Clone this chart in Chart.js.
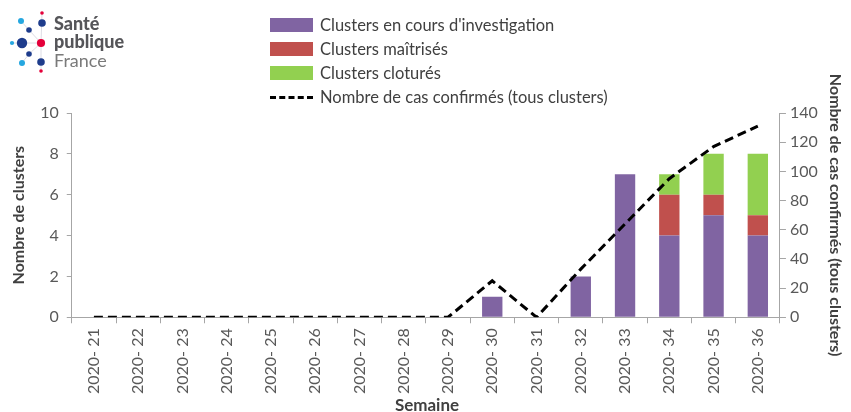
<!DOCTYPE html>
<html><head><meta charset="utf-8">
<script src="https://cdn.jsdelivr.net/npm/chart.js@4"></script>
<style>
html,body{margin:0;padding:0;background:#fff;overflow:hidden;}
#wrap{position:relative;width:851px;height:412px;overflow:hidden;font-family:Lato,"Open Sans",sans-serif;}
#c{position:absolute;left:0;top:0;}
#legend{position:absolute;left:270px;top:13px;font-size:16.5px;color:#404040;}
.li{height:24px;display:flex;align-items:center;}
.sw{width:43px;height:14px;margin-right:7px;}
.dash{width:43px;height:0;border-top:3px dashed #000;margin-right:7px;}
#logo{position:absolute;left:0;top:0;}
.lt{position:absolute;left:54px;font-family:Lato,sans-serif;color:#555559;font-size:18px;line-height:17px;}
#xt{position:absolute;left:377px;width:100px;text-align:center;top:395px;font-size:17px;font-weight:bold;color:#404040;line-height:20px;}
</style></head>
<body><div id="wrap">
<canvas id="c" width="851" height="412"></canvas>
<svg id="logo" width="60" height="80">
<g stroke="#dcdce4" stroke-width="1">
<line x1="41" y1="43" x2="42" y2="13"/><line x1="41" y1="43" x2="41" y2="71"/>
<line x1="41" y1="43" x2="12" y2="43"/><line x1="41" y1="43" x2="29" y2="30"/>
<line x1="41" y1="43" x2="29" y2="54"/><line x1="29" y1="30" x2="21" y2="21"/><line x1="29" y1="54" x2="22" y2="63"/>
</g>
<circle cx="42" cy="13" r="1.8" fill="#e4003a"/>
<circle cx="42" cy="23" r="3.8" fill="#1e3c8c"/>
<circle cx="21" cy="21" r="3" fill="#25a7e0"/>
<circle cx="29" cy="30" r="2.8" fill="#1e3c8c"/>
<circle cx="12" cy="43" r="2.1" fill="#25a7e0"/>
<circle cx="22" cy="43" r="5.2" fill="#1e3c8c"/>
<circle cx="41" cy="43" r="4.1" fill="#e4003a"/>
<circle cx="29" cy="54" r="2.8" fill="#1e3c8c"/>
<circle cx="22" cy="63" r="3" fill="#25a7e0"/>
<circle cx="41" cy="62" r="3.8" fill="#1e3c8c"/>
<circle cx="41" cy="71" r="1.8" fill="#e4003a"/>
</svg>
<div class="lt" style="top:15px;font-weight:900;">Santé</div>
<div class="lt" style="top:33px;font-weight:900;">publique</div>
<div class="lt" style="top:52px;color:#7a7a7a;">France</div>
<div id="legend">
<div class="li"><div class="sw" style="background:#8064A2"></div>Clusters en cours d'investigation</div>
<div class="li"><div class="sw" style="background:#C0504D"></div>Clusters maîtrisés</div>
<div class="li"><div class="sw" style="background:#92D050"></div>Clusters cloturés</div>
<div class="li"><div class="dash"></div>Nombre de cas confirmés (tous clusters)</div>
</div>
<div id="xt">Semaine</div>
</div>
<script>
const weeks = ["2020- 21","2020- 22","2020- 23","2020- 24","2020- 25","2020- 26","2020- 27","2020- 28","2020- 29","2020- 30","2020- 31","2020- 32","2020- 33","2020- 34","2020- 35","2020- 36"];
const enCours   = [0,0,0,0,0,0,0,0,0,1,0,2,7,4,5,4];
const maitrises = [0,0,0,0,0,0,0,0,0,0,0,0,0,2,1,1];
const clotures  = [0,0,0,0,0,0,0,0,0,0,0,0,0,1,2,3];
const casConfirmes = [0,0,0,0,0,0,0,0,0,25,0,33,64,95,117,131];
const leftTicks = [0,2,4,6,8,10];
const rightTicks = [0,20,40,60,80,100,120,140];

const axisColor = '#A6A6A6';
const tickColor = '#595959';
const fontFam = 'Lato, "Open Sans", sans-serif';

new Chart(document.getElementById('c'), {
  data: {
    labels: weeks,
    datasets: [
      {type:'line', label:'Nombre de cas confirmés (tous clusters)', data:casConfirmes, yAxisID:'y1',
       borderColor:'#000', borderWidth:3, borderDash:[9,5], pointRadius:0, fill:false, tension:0, order:0},
      {type:'bar', label:"Clusters en cours d'investigation", data:enCours, backgroundColor:'#8064A2', yAxisID:'y', stack:'s', order:1},
      {type:'bar', label:'Clusters maîtrisés', data:maitrises, backgroundColor:'#C0504D', yAxisID:'y', stack:'s', order:1},
      {type:'bar', label:'Clusters cloturés', data:clotures, backgroundColor:'#92D050', yAxisID:'y', stack:'s', order:1}
    ]
  },
  options: {
    responsive:false, animation:false,
    layout:{padding:{top:113,left:5,right:0,bottom:13}},
    datasets:{bar:{barPercentage:0.46, categoryPercentage:1}},
    plugins:{legend:{display:false}, tooltip:{enabled:false}},
    scales:{
      x:{stacked:true, offset:true,
         grid:{display:true, drawOnChartArea:false, tickLength:6, color:axisColor, offset:true},
         border:{color:axisColor},
         ticks:{maxRotation:90, minRotation:90, color:tickColor, font:{family:fontFam, size:16}, padding:5},
         title:{display:false}},
      y:{stacked:true, position:'left', min:0, max:10,
         afterBuildTicks: s => { s.ticks = leftTicks.map(v=>({value:v})); },
         grid:{drawOnChartArea:false, tickLength:5, color:axisColor},
         border:{color:axisColor},
         ticks:{color:tickColor, font:{family:fontFam, size:16}, padding:8},
         title:{display:true, text:'Nombre de clusters', color:'#404040', font:{family:fontFam, size:16, weight:'bold'}, padding:{bottom:4}}},
      y1:{position:'right', min:0, max:140,
         afterBuildTicks: s => { s.ticks = rightTicks.map(v=>({value:v})); },
         grid:{drawOnChartArea:false, tickLength:6, color:axisColor},
         border:{color:axisColor},
         ticks:{color:tickColor, font:{family:fontFam, size:16}, padding:4},
         title:{display:true, text:'Nombre de cas confirmés (tous clusters)', color:'#404040', font:{family:fontFam, size:16, weight:'bold'}, padding:{top:6}}}
    }
  }
});
</script>
</body></html>
